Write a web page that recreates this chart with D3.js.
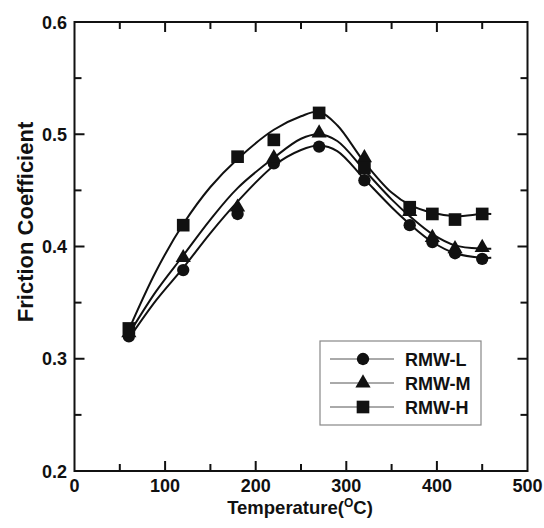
<!DOCTYPE html>
<html>
<head>
<meta charset="utf-8">
<script src="https://cdn.jsdelivr.net/npm/d3@7"></script>
<style>
  body { margin: 0; background: #fff; }
  text { font-family: "Liberation Sans", Arial, sans-serif; font-weight: bold; fill: #111; }
</style>
</head>
<body>
<script>
// measured points
var temps = [60, 120, 180, 220, 270, 320, 370, 395, 420, 450];
var rmwL = [0.320, 0.379, 0.429, 0.474, 0.489, 0.459, 0.419, 0.404, 0.394, 0.389];
var rmwM = [0.323, 0.390, 0.435, 0.479, 0.501, 0.479, 0.431, 0.408, 0.398, 0.399];
var rmwH = [0.327, 0.419, 0.480, 0.495, 0.519, 0.470, 0.435, 0.429, 0.424, 0.429];

// fitted curves
var fitTemps = [60, 90, 120, 150, 180, 220, 250, 270, 290, 320, 350, 370, 395, 420, 450, 460];
var fitL = [0.318, 0.352, 0.381, 0.412, 0.440, 0.472, 0.486, 0.490, 0.485, 0.460, 0.435, 0.420, 0.404, 0.394, 0.390, 0.390];
var fitM = [0.322, 0.360, 0.392, 0.424, 0.452, 0.479, 0.496, 0.500, 0.494, 0.468, 0.442, 0.427, 0.411, 0.401, 0.398, 0.398];
var fitH = [0.326, 0.378, 0.420, 0.453, 0.478, 0.504, 0.516, 0.520, 0.508, 0.475, 0.448, 0.437, 0.430, 0.427, 0.429, 0.429];

var xTicks = [0, 100, 200, 300, 400, 500];
var yTicks = [0.2, 0.3, 0.4, 0.5, 0.6];
var names = ["RMW-L", "RMW-M", "RMW-H"];

var w = 544, h = 528;
// plot box (avoid the name "top", it is window.top)
var pl = 74.5, pr = 527.5, pt = 22, pb = 471;

var svg = d3.select("body").append("svg")
  .attr("width", w)
  .attr("height", h);

var x = d3.scaleLinear().domain([0, 500]).range([pl, pr]);
var y = d3.scaleLinear().domain([0.2, 0.6]).range([pb, pt]);

// frame
svg.append("rect")
  .attr("x", pl).attr("y", pt)
  .attr("width", pr - pl).attr("height", pb - pt)
  .attr("fill", "none").attr("stroke", "#111").attr("stroke-width", 2);

// ticks, inward on all four sides
var xMinor = d3.range(50, 500, 100);
var yMinor = [0.25, 0.35, 0.45, 0.55];
var tk = svg.append("g").attr("stroke", "#111").attr("stroke-width", 2);
xTicks.slice(1, -1).forEach(function(t) {
  tk.append("line").attr("x1", x(t)).attr("x2", x(t)).attr("y1", pb).attr("y2", pb - 10);
  tk.append("line").attr("x1", x(t)).attr("x2", x(t)).attr("y1", pt).attr("y2", pt + 10);
});
xMinor.forEach(function(t) {
  tk.append("line").attr("x1", x(t)).attr("x2", x(t)).attr("y1", pb).attr("y2", pb - 7);
  tk.append("line").attr("x1", x(t)).attr("x2", x(t)).attr("y1", pt).attr("y2", pt + 7);
});
yTicks.slice(1, -1).forEach(function(t) {
  tk.append("line").attr("y1", y(t)).attr("y2", y(t)).attr("x1", pl).attr("x2", pl + 10);
  tk.append("line").attr("y1", y(t)).attr("y2", y(t)).attr("x1", pr).attr("x2", pr - 10);
});
yMinor.forEach(function(t) {
  tk.append("line").attr("y1", y(t)).attr("y2", y(t)).attr("x1", pl).attr("x2", pl + 7);
  tk.append("line").attr("y1", y(t)).attr("y2", y(t)).attr("x1", pr).attr("x2", pr - 7);
});

// tick labels
svg.selectAll(".xl").data(xTicks).enter().append("text")
  .attr("x", function(d) { return x(d); })
  .attr("y", 492)
  .attr("text-anchor", "middle")
  .attr("font-size", 18)
  .text(function(d) { return d; });
svg.selectAll(".yl").data(yTicks).enter().append("text")
  .attr("x", 67)
  .attr("y", function(d) { return y(d) + 6.5; })
  .attr("text-anchor", "end")
  .attr("font-size", 18)
  .text(function(d) { return d.toFixed(1); });

// axis titles
var xt = svg.append("text")
  .attr("x", 300).attr("y", 514)
  .attr("text-anchor", "middle")
  .attr("font-size", 18.5);
xt.append("tspan").text("Temperature(");
xt.append("tspan").attr("dy", -7).attr("font-size", 12).text("O");
xt.append("tspan").attr("dy", 7).text("C)");

svg.append("text")
  .attr("transform", "translate(33,222) rotate(-90)")
  .attr("text-anchor", "middle")
  .attr("font-size", 22)
  .text("Friction Coefficient");

// fit curves
var line = d3.line()
  .x(function(d) { return x(d[0]); })
  .y(function(d) { return y(d[1]); })
  .curve(d3.curveCatmullRom.alpha(0.5));
[fitL, fitM, fitH].forEach(function(f) {
  svg.append("path")
    .attr("d", line(fitTemps.map(function(t, i) { return [t, f[i]]; })))
    .attr("fill", "none").attr("stroke", "#111").attr("stroke-width", 2);
});

// markers
var symbols = [d3.symbolCircle, d3.symbolTriangle, d3.symbolSquare];
var sizes = [120, 100, 160];
[rmwL, rmwM, rmwH].forEach(function(s, k) {
  svg.selectAll(".m" + k).data(s).enter().append("path")
    .attr("d", d3.symbol().type(symbols[k]).size(sizes[k]))
    .attr("transform", function(d, i) { return "translate(" + x(temps[i]) + "," + y(d) + ")"; })
    .attr("fill", "#111");
});

// legend
var lg = svg.append("g");
lg.append("rect")
  .attr("x", 320).attr("y", 341).attr("width", 161).attr("height", 84)
  .attr("fill", "#fff").attr("stroke", "#888").attr("stroke-width", 1.2);
names.forEach(function(n, k) {
  var ly = 359 + k * 24;
  lg.append("line").attr("x1", 330).attr("x2", 394).attr("y1", ly).attr("y2", ly)
    .attr("stroke", "#555").attr("stroke-width", 1);
  lg.append("path")
    .attr("d", d3.symbol().type(symbols[k]).size(sizes[k]))
    .attr("transform", "translate(363," + ly + ")")
    .attr("fill", "#111");
  lg.append("text")
    .attr("x", 405).attr("y", ly + 6.5)
    .attr("font-size", 18)
    .text(n);
});
</script>
</body>
</html>
